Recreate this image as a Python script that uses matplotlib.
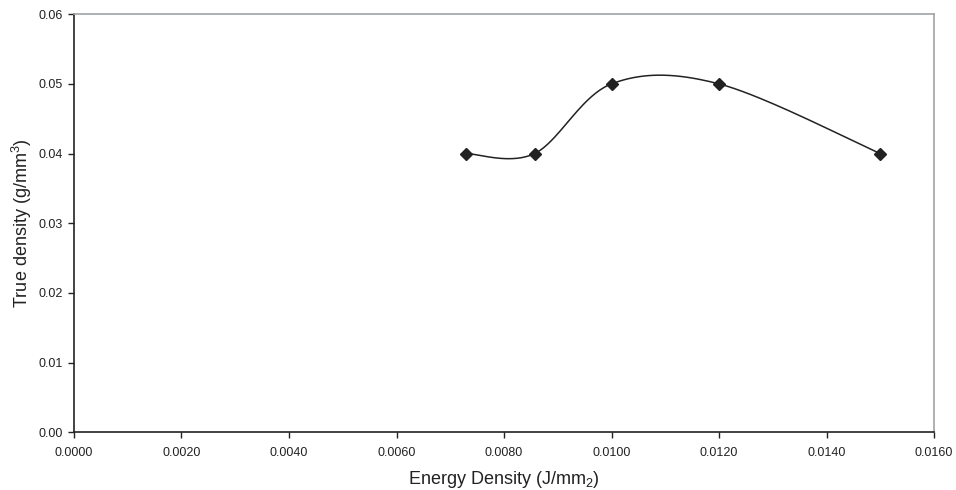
import numpy as np
import matplotlib
matplotlib.use("Agg")
import matplotlib.pyplot as plt

plt.rcParams['font.family'] = ['Liberation Sans', 'DejaVu Sans']
plt.rcParams['mathtext.fontset'] = 'custom'
plt.rcParams['mathtext.rm'] = 'Liberation Sans'
plt.rcParams['mathtext.it'] = 'Liberation Sans'

energy = [0.0073, 0.00857, 0.0100, 0.0120, 0.0150]
density = [0.04, 0.04, 0.05, 0.05, 0.04]


def smooth(xs, ys, n=40):
    # excel-like smoothed line: cubic bezier with catmull-rom control points
    p = np.column_stack([xs, ys])
    pts = [p[0]] + list(p) + [p[-1]]
    out = []
    for i in range(1, len(pts) - 2):
        p0, p1, p2, p3 = pts[i - 1], pts[i], pts[i + 1], pts[i + 2]
        c1 = p1 + (p2 - p0) / 6
        c2 = p2 - (p3 - p1) / 6
        t = np.linspace(0, 1, n)[:, None]
        seg = (1 - t) ** 3 * p1 + 3 * (1 - t) ** 2 * t * c1 + 3 * (1 - t) * t ** 2 * c2 + t ** 3 * p2
        out.append(seg)
    out = np.vstack(out)
    return out[:, 0], out[:, 1]


fig = plt.figure(figsize=(9.56, 4.9), dpi=100)
ax = fig.add_axes([0.0774, 0.118, 0.8996, 0.853])

sx, sy = smooth(energy, density)
ax.plot(sx, sy, color='#222222', lw=1.1)
ax.plot(energy, density, linestyle='none', marker='D', color='#222222', markersize=6)

ax.set_xlim(0, 0.016)
ax.set_ylim(0, 0.06)
ax.set_xticks(np.arange(0, 0.0161, 0.002))
ax.set_xticklabels([f"{v:.4f}" for v in np.arange(0, 0.0161, 0.002)])
ax.set_yticks(np.arange(0, 0.061, 0.01))
ax.set_yticklabels([f"{v:.2f}" for v in np.arange(0, 0.061, 0.01)])
ax.tick_params(direction='out', length=4, width=1, labelsize=9, colors='#222222')
ax.tick_params(axis='x', pad=7)
ax.tick_params(axis='y', pad=4)

ax.spines['left'].set_color('#222222')
ax.spines['bottom'].set_color('#222222')
ax.spines['top'].set_color('#a0a4a8')
ax.spines['right'].set_color('#a0a4a8')
for s in ax.spines.values():
    s.set_linewidth(1.2)

ax.set_xlabel('Energy Density (J/mm$_2$)', fontsize=13, color='#222222', labelpad=7)
ax.set_ylabel('True density (g/mm$^3$)', fontsize=13, color='#222222', labelpad=3)

fig.savefig('out.png', dpi=100)
